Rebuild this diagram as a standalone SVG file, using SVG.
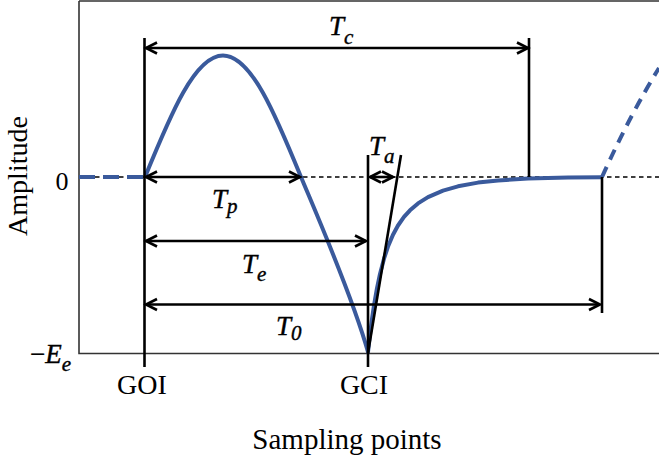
<svg xmlns="http://www.w3.org/2000/svg" width="659" height="461" viewBox="0 0 659 461">
<style>
.ax{stroke:#333;stroke-width:1.6;fill:none}
.ln{stroke:#000;stroke-width:2.6;fill:none}
.ar{stroke:#000;stroke-width:2.6;fill:none;marker-start:url(#ah);marker-end:url(#ah)}
.zero{stroke:#000;stroke-width:1.3;stroke-dasharray:4.5 3.5;fill:none}
.blue{stroke:#3a5a9c;stroke-width:4;fill:none;stroke-linejoin:round}
.bdash{stroke:#3a5a9c;stroke-width:4;fill:none;stroke-dasharray:16 8}
.bdash2{stroke:#3a5a9c;stroke-width:4;fill:none;stroke-dasharray:11 8}
.t{font-family:"Liberation Serif","Times New Roman",serif;font-size:28px;fill:#000}
.m{font-family:"Liberation Serif","Times New Roman",serif;font-style:italic;font-size:27px;fill:#000;stroke:#000;stroke-width:0.4}
.s{font-size:21px}
</style>
<defs>
<marker id="ah" markerUnits="userSpaceOnUse" orient="auto-start-reverse" refX="0" refY="0" markerWidth="20" markerHeight="20" overflow="visible">
<path d="M-11,-5.5 L0,0 L-11,5.5" stroke="#000" stroke-width="2.6" fill="none"/>
</marker>
</defs>
<g id="axes">
<path class="ax" d="M79,1 L659,1 M79,1 L79,353.5 L659,353.5"/>
<path class="zero" d="M79,177 L659,177"/>
</g>
<g id="waveform">
<path class="bdash" d="M79,177 L145,177"/>
<path class="blue" d="M145,177 C170.4,114.8 194.8,55.5 223,55.5 C251.2,55.5 275.6,114.8 301,177 C316,213 352,295 368,352 L370,334.3 L372,318.9 L374,305.4 L377,288.2 L380,274 L384,258.7 L388,246.6 L393,234.7 L398,225.5 L404,216.9 L410,210.3 L418,203.4 L428,197.1 L443,190.6 L458,186.3 L478,182.6 L498,180.4 L528,178.6 L568,177.6 L602,177.2"/>
<path class="bdash2" d="M602,177 Q630,115 659,68"/>
</g>
<g id="markers">
<path class="ln" d="M144.5,38 L144.5,367"/>
<path class="ln" d="M368,155 L368,367"/>
<path class="ln" d="M529,38 L529,177"/>
<path class="ln" d="M602,177 L602,313"/>
<path class="ln" d="M368,353 L401,155"/>
</g>
<g id="connectors">
<path class="ar" d="M146,48 L528,48"/>
<path class="ar" d="M146,177 L300,177"/>
<path class="ar" d="M146,241 L366,241"/>
<path class="ar" d="M146,304.5 L600,304.5"/>
<path class="ar" d="M370,177 L393,177"/>
</g>
<g id="labels">
<text class="m" x="329" y="35">T<tspan class="s" dy="9">c</tspan></text>
<text class="m" x="212" y="208">T<tspan class="s" dy="5">p</tspan></text>
<text class="m" x="242" y="273">T<tspan class="s" dy="8">e</tspan></text>
<text class="m" x="276" y="335">T<tspan class="s" dy="5">0</tspan></text>
<text class="m" x="369" y="155">T<tspan class="s" dy="8">a</tspan></text>
<text class="t" x="62" y="190" text-anchor="middle" style="font-size:26px">0</text>
<text class="m" x="30" y="363"><tspan style="font-style:normal">−</tspan>E<tspan class="s" dy="8">e</tspan></text>
<text class="t" x="142" y="394" text-anchor="middle">GOI</text>
<text class="t" x="364" y="394" text-anchor="middle">GCI</text>
<text class="t" x="347" y="449" text-anchor="middle" style="font-size:29px">Sampling points</text>
<text class="t" transform="translate(27,176) rotate(-90)" text-anchor="middle">Amplitude</text>
</g>
</svg>
